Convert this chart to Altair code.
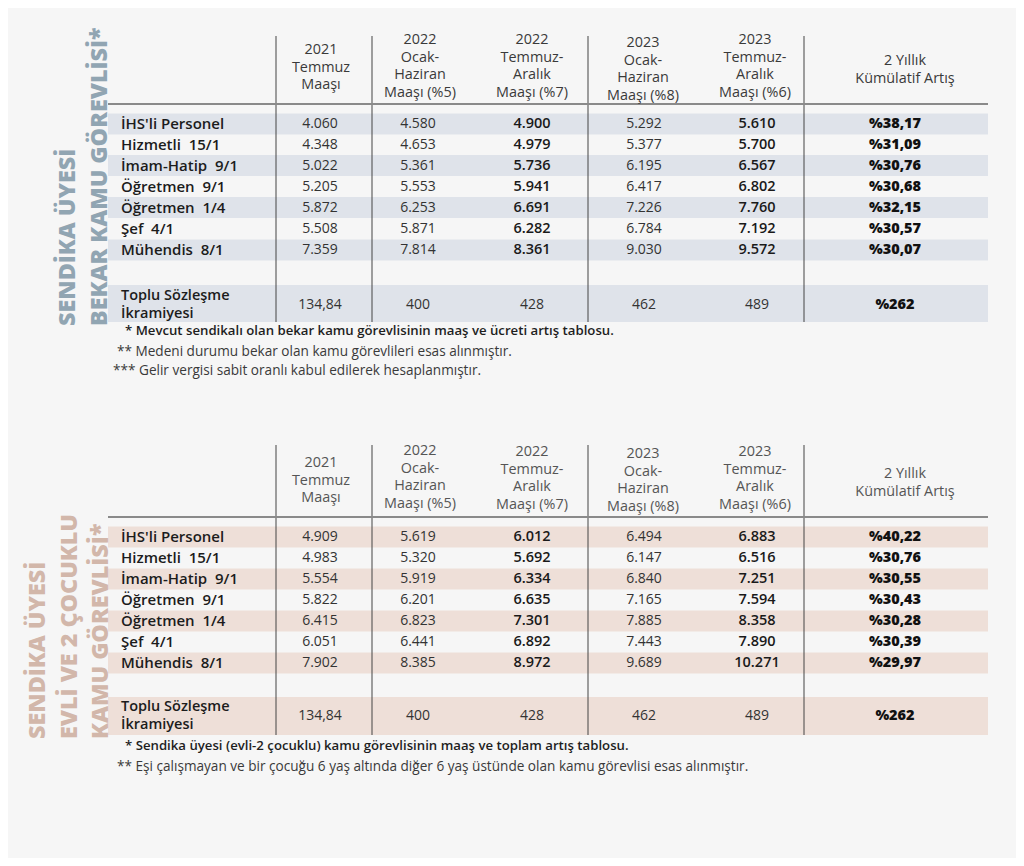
import altair as alt
import pandas as pd

# ---------------- data ----------------
row_labels = ["İHS'li Personel", "Hizmetli \u00a015/1", "İmam-Hatip \u00a09/1",
              "Öğretmen \u00a09/1", "Öğretmen \u00a01/4", "Şef \u00a04/1", "Mühendis \u00a08/1"]
bonus_label = ["Toplu Sözleşme", "İkramiyesi"]
col_headers = [
    ["2021", "Temmuz", "Maaşı"],
    ["2022", "Ocak-", "Haziran", "Maaşı (%5)"],
    ["2022", "Temmuz-", "Aralık", "Maaşı (%7)"],
    ["2023", "Ocak-", "Haziran", "Maaşı (%8)"],
    ["2023", "Temmuz-", "Aralık", "Maaşı (%6)"],
    ["2 Yıllık", "Kümülatif Artış"],
]

# table 1: bekar
bekar_2021_tem = ["4.060", "4.348", "5.022", "5.205", "5.872", "5.508", "7.359"]
bekar_2022_oca = ["4.580", "4.653", "5.361", "5.553", "6.253", "5.871", "7.814"]
bekar_2022_tem = ["4.900", "4.979", "5.736", "5.941", "6.691", "6.282", "8.361"]
bekar_2023_oca = ["5.292", "5.377", "6.195", "6.417", "7.226", "6.784", "9.030"]
bekar_2023_tem = ["5.610", "5.700", "6.567", "6.802", "7.760", "7.192", "9.572"]
bekar_kumulatif = ["%38,17", "%31,09", "%30,76", "%30,68", "%32,15", "%30,57", "%30,07"]
bekar_bonus = ["134,84", "400", "428", "462", "489", "%262"]

# table 2: evli, 2 cocuklu
evli_2021_tem = ["4.909", "4.983", "5.554", "5.822", "6.415", "6.051", "7.902"]
evli_2022_oca = ["5.619", "5.320", "5.919", "6.201", "6.823", "6.441", "8.385"]
evli_2022_tem = ["6.012", "5.692", "6.334", "6.635", "7.301", "6.892", "8.972"]
evli_2023_oca = ["6.494", "6.147", "6.840", "7.165", "7.885", "7.443", "9.689"]
evli_2023_tem = ["6.883", "6.516", "7.251", "7.594", "8.358", "7.890", "10.271"]
evli_kumulatif = ["%40,22", "%30,76", "%30,55", "%30,43", "%30,28", "%30,39", "%29,97"]
evli_bonus = ["134,84", "400", "428", "462", "489", "%262"]

bekar_titles = ["SENDİKA ÜYESİ", "BEKAR KAMU GÖREVLİSİ*"]
evli_titles = ["SENDİKA ÜYESİ", "EVLİ VE 2 ÇOCUKLU", "KAMU GÖREVLİSİ*"]

bekar_notes = ["* Mevcut sendikalı olan bekar kamu görevlisinin maaş ve ücreti artış tablosu.",
               "** Medeni durumu bekar olan kamu görevlileri esas alınmıştır.",
               "*** Gelir vergisi sabit oranlı kabul edilerek hesaplanmıştır."]
evli_notes = ["* Sendika üyesi (evli-2 çocuklu) kamu görevlisinin maaş ve toplam artış tablosu.",
              "** Eşi çalışmayan ve bir çocuğu 6 yaş altında diğer 6 yaş üstünde olan kamu görevlisi esas alınmıştır."]

# ---------------- layout ----------------
FONT = "Open Sans"
col_x = [320, 418, 532, 644, 757, 895]
head_x = [321, 420, 532, 643, 755, 905]
bold_cols = [False, False, True, False, True, True]
vlines_x = [276, 372, 588, 804]
LINE_H = 17.7
tables = [
    dict(cols=[bekar_2021_tem, bekar_2022_oca, bekar_2022_tem, bekar_2023_oca, bekar_2023_tem, bekar_kumulatif],
         bonus=bekar_bonus, row_y=[124, 145, 165.5, 186.5, 207.5, 228.5, 250], head_top=[50, 40, 40, 43, 40, 61],
         bonus_y=305, bonus_band=(285, 322), vtop=36, vbot=322, hline=104,
         stripe="#dfe3ea", title_col="#91a5b2", titles=bekar_titles, title_x=[68, 100], title_y=326,
         head_col="#3a3a3a", notes=bekar_notes, note_x=[125, 117, 113], note_y=[331, 352, 371]),
    dict(cols=[evli_2021_tem, evli_2022_oca, evli_2022_tem, evli_2023_oca, evli_2023_tem, evli_kumulatif],
         bonus=evli_bonus, row_y=[537, 558, 579, 600, 621, 642, 663], head_top=[463, 451, 452, 454, 452, 474],
         bonus_y=716, bonus_band=(697, 735), vtop=445, vbot=735, hline=517,
         stripe="#eedfd8", title_col="#d2b7aa", titles=evli_titles, title_x=[38, 70, 101], title_y=739,
         head_col="#555555", notes=evli_notes, note_x=[125, 117], note_y=[746, 767]),
]

stripes, vrules, hrules = [], [], []
labels, plain_vals, bold_vals, cum_vals, heads, titles, notes_b, notes_r = [], [], [], [], [], [], [], []
for t in tables:
    for i, y in enumerate(t["row_y"]):
        if i % 2 == 0:
            stripes.append(dict(x=108, x2=988, y=y - 10.5, y2=y + 10.5, c=t["stripe"]))
        labels.append(dict(x=121, y=y, text=row_labels[i], s=15))
        for j, col in enumerate(t["cols"]):
            rec = dict(x=col_x[j], y=y, text=col[i])
            if j == 5:
                cum_vals.append(rec)
            elif bold_cols[j]:
                bold_vals.append(rec)
            else:
                plain_vals.append(rec)
    b0, b1 = t["bonus_band"]
    stripes.append(dict(x=108, x2=988, y=b0, y2=b1, c=t["stripe"]))
    for k, line in enumerate(bonus_label):
        labels.append(dict(x=121, y=t["bonus_y"] - 8.7 + 17.4 * k, text=line, s=14.5))
    for j, v in enumerate(t["bonus"]):
        rec = dict(x=col_x[j], y=t["bonus_y"], text=v)
        (cum_vals if j == 5 else plain_vals).append(rec)
    for vx in vlines_x:
        vrules.append(dict(x=vx, y=t["vtop"], y2=t["vbot"]))
    hrules.append(dict(x=108, x2=988, y=t["hline"]))
    for j, lines in enumerate(col_headers):
        for k, line in enumerate(lines):
            heads.append(dict(x=head_x[j], y=t["head_top"][j] + LINE_H * k, text=line, c=t["head_col"]))
    for k, tt in enumerate(t["titles"]):
        titles.append(dict(x=t["title_x"][k], y=t["title_y"], text=tt, c=t["title_col"]))
    for k, n in enumerate(t["notes"]):
        rec = dict(x=t["note_x"][k], y=t["note_y"][k], text=n)
        (notes_b if k == 0 else notes_r).append(rec)

X = alt.Scale(domain=[8, 1016])
Y = alt.Scale(domain=[8, 858], reverse=True)


def xq(f="x"):
    return alt.X(f, type="quantitative", scale=X, axis=None)


def yq(f="y"):
    return alt.Y(f, type="quantitative", scale=Y, axis=None)


def text_layer(rows, size, weight, color, align="center", angle=0, font=FONT, color_field=False, size_field=False):
    kw = {}
    if not color_field:
        kw["color"] = color
    if not size_field:
        kw["fontSize"] = size
    m = alt.Chart(pd.DataFrame(rows)).mark_text(
        fontWeight=weight, align=align, baseline="middle", font=font, angle=angle, **kw)
    enc = dict(x=xq(), y=yq(), text="text:N")
    if color_field:
        enc["color"] = alt.Color("c:N", scale=None)
    if size_field:
        enc["size"] = alt.Size("s:Q", scale=None)
    return m.encode(**enc)


stripe_layer = alt.Chart(pd.DataFrame(stripes)).mark_rect().encode(
    x=xq(), x2="x2", y=yq(), y2="y2", color=alt.Color("c:N", scale=None))
vrule_layer = alt.Chart(pd.DataFrame(vrules)).mark_rule(color="#454545", strokeWidth=1).encode(
    x=xq(), y=yq(), y2="y2")
hrule_layer = alt.Chart(pd.DataFrame(hrules)).mark_rule(color="#8a8a8a", strokeWidth=2).encode(
    x=xq(), x2="x2", y=yq())

chart = alt.layer(
    stripe_layer,
    vrule_layer,
    hrule_layer,
    text_layer(labels, None, 600, "#1c1c1c", align="left", size_field=True),
    text_layer(plain_vals, 14, 400, "#333333"),
    text_layer(bold_vals, 14.5, 600, "#1a1a1a"),
    text_layer(cum_vals, 14.5, 800, "#111111"),
    text_layer(heads, 14.4, 400, None, color_field=True),
    text_layer(titles, 23.3, 800, None, align="left", angle=270, color_field=True),
    text_layer(notes_b, 13.2, 600, "#1e1e1e", align="left"),
    text_layer(notes_r, 13.6, 400, "#3a3a3a", align="left"),
).properties(
    width=1008, height=850, background="#f6f6f6", padding=0,
    autosize=alt.AutoSizeParams(type="none"),
).configure_view(stroke=None)

chart.save("out.html", embed_options={"renderer": "svg", "actions": False})
